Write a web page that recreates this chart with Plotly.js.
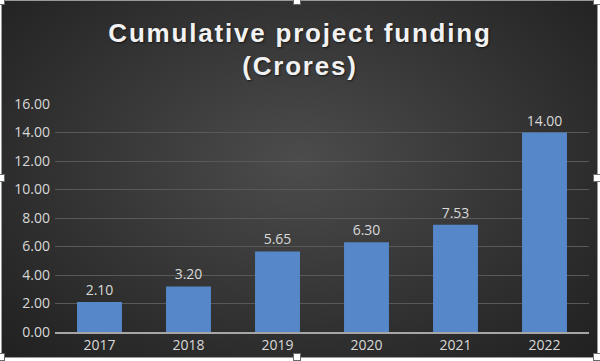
<!DOCTYPE html>
<html>
<head>
<meta charset="utf-8">
<script src="https://cdn.plot.ly/plotly-3.0.1.min.js"></script>
<style>
  html, body { margin: 0; padding: 0; background: #ffffff; }
  #wrap { position: relative; width: 600px; height: 361px; overflow: hidden; }
  #bg { position: absolute; left: 2px; top: 1px; width: 595px; height: 356px;
        background: radial-gradient(ellipse at 50% 45%, #4c4c4c 0%, #3a3a3a 40%, #262626 85%, #212121 100%);
        box-shadow: 0 0 0 1px #9a9a9a; }
  #chart { position: absolute; left: 0; top: 0; width: 600px; height: 361px; }
  .h { position: absolute; width: 6px; height: 6px; background: #fff; border: 1px solid #6a6a6a; }
  .gtitle { letter-spacing: 1.8px; }
</style>
</head>
<body>
<div id="wrap">
  <div id="bg"></div>
  <div id="chart"></div>
  <div class="h" style="left:-3px;top:-3px"></div>
  <div class="h" style="left:293px;top:-3px"></div>
  <div class="h" style="left:593px;top:-3px"></div>
  <div class="h" style="left:-3px;top:174px"></div>
  <div class="h" style="left:593px;top:174px"></div>
  <div class="h" style="left:-3px;top:353px"></div>
  <div class="h" style="left:293px;top:353px"></div>
  <div class="h" style="left:593px;top:353px"></div>
</div>
<script>
const years = ['2017', '2018', '2019', '2020', '2021', '2022'];
const funding = [2.10, 3.20, 5.65, 6.30, 7.53, 14.00];
const yTicks = [0, 2, 4, 6, 8, 10, 12, 14, 16];
const yTickLabels = ['0.00', '2.00', '4.00', '6.00', '8.00', '10.00', '12.00', '14.00', '16.00'];

const labelFont = { family: 'Open Sans, Liberation Sans, sans-serif', size: 14, color: '#d9d9d9' };

const trace = {
  type: 'bar',
  x: years,
  y: funding,
  text: funding.map(v => v.toFixed(2)),
  textposition: 'outside',
  cliponaxis: false,
  textfont: labelFont,
  marker: { color: '#5587c9', line: { width: 0 } },
  hoverinfo: 'none'
};

const layout = {
  width: 600,
  height: 361,
  paper_bgcolor: 'rgba(0,0,0,0)',
  plot_bgcolor: 'rgba(0,0,0,0)',
  margin: { l: 55, r: 11, t: 104, b: 29 },
  bargap: 0.495,
  showlegend: false,
  title: {
    text: '<b>Cumulative project funding</b><br><b>(Crores)</b>',
    x: 0.5,
    xanchor: 'center',
    y: 0.885,
    yanchor: 'top',
    font: { family: 'Liberation Sans, Arial, sans-serif', size: 26, color: '#f2f2f2', shadow: '1px 1px 2px rgba(0,0,0,0.6)' }
  },
  xaxis: {
    type: 'category',
    showgrid: false,
    showline: true,
    linecolor: '#a6a6a6',
    linewidth: 1.5,
    ticks: '',
    tickfont: labelFont,
    fixedrange: true
  },
  yaxis: {
    range: [0, 16],
    tickvals: yTicks,
    ticktext: yTickLabels,
    showgrid: true,
    gridcolor: '#595959',
    gridwidth: 1,
    zeroline: false,
    showline: false,
    ticks: '',
    ticklabelstandoff: 4,
    tickfont: labelFont,
    fixedrange: true
  }
};

Plotly.newPlot('chart', [trace], layout, { staticPlot: true, displayModeBar: false });
</script>
</body>
</html>
